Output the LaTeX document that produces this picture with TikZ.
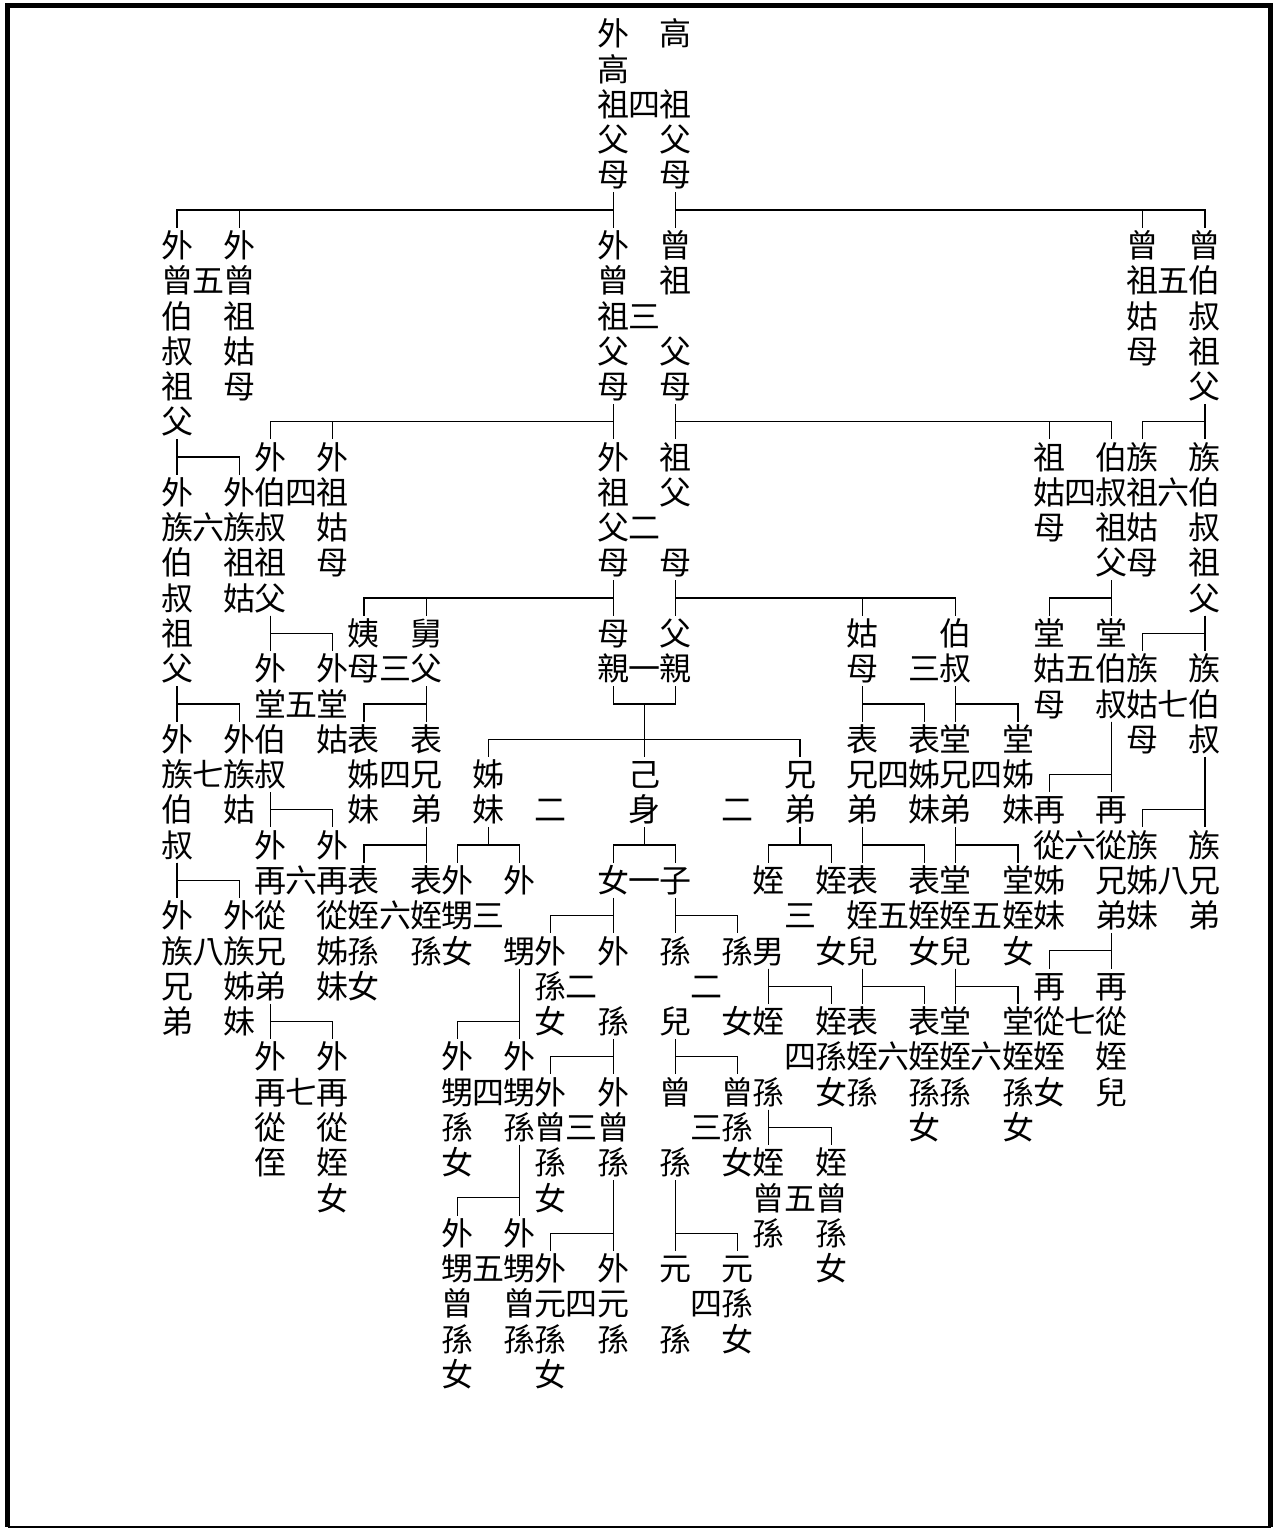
\documentclass[tikz,border=0pt]{standalone}
\usepackage{fontspec}
\newfontfamily\cjk{Noto Sans CJK TC}
\newlength\cellw \setlength\cellw{15.575pt}
\makeatletter
\def\vt@end{\vt@end}
\newcommand\vtext[1]{\vbox{\offinterlineskip\vt@loop#1\vt@end}}
\def\vt@loop#1{\ifx#1\vt@end\else\hbox to\cellw{\vrule height14.9pt depth2.74pt width0pt\hss#1\hss}\expandafter\vt@loop\fi}
\makeatother

\begin{document}
\begin{tikzpicture}[x=15.575pt,y=17.64pt]
\tikzstyle{term}=[anchor=north, yshift=8.82pt, inner sep=0pt, outer sep=0pt, font=\cjk\fontsize{16pt}{17.64pt}\selectfont]
\tikzstyle{link}=[line width=0.6pt]
\useasboundingbox (-5.6822,0.9524) rectangle (35.3451,-42.358);
% frame
\draw[line width=2.5pt] (-5.441,-42.324) -- (-5.441,0.797) -- (35.104,0.797) -- (35.104,-42.324);
\draw[line width=0.75pt] (-5.441,-42.324) -- (35.104,-42.324);
% generation -4 .. -3
\node[term] (wgz) at (14,0) {\vtext{外高祖父母}};
\node[term] (gz) at (16,0) {\vtext{高　祖父母}};
\node[term] (wzbs) at (0,-6) {\vtext{外曾伯叔祖父}};
\node[term] (wzgu) at (2,-6) {\vtext{外曾祖姑母}};
\node[term] (wz) at (14,-6) {\vtext{外曾祖父母}};
\node[term] (zz) at (16,-6) {\vtext{曾祖　父母}};
\node[term] (zzgu) at (31,-6) {\vtext{曾祖姑母}};
\node[term] (zbs) at (33,-6) {\vtext{曾伯叔祖父}};
% generation -2
\node[term] (wzbs2) at (0,-13) {\vtext{外族伯叔祖父}};
\node[term] (wzgu2) at (2,-13) {\vtext{外族祖姑}};
\node[term] (wbs) at (3,-12) {\vtext{外伯叔祖父}};
\node[term] (wgu) at (5,-12) {\vtext{外祖姑母}};
\node[term] (wzf) at (14,-12) {\vtext{外祖父母}};
\node[term] (zf) at (16,-12) {\vtext{祖父　母}};
\node[term] (zgm) at (28,-12) {\vtext{祖姑母}};
\node[term] (bszf) at (30,-12) {\vtext{伯叔祖父}};
\node[term] (zzgm) at (31,-12) {\vtext{族祖姑母}};
\node[term] (zbszf) at (33,-12) {\vtext{族伯叔祖父}};
% generation -1
\node[term] (wzbs3) at (0,-20) {\vtext{外族伯叔}};
\node[term] (wzgu3) at (2,-20) {\vtext{外族姑}};
\node[term] (wtbs) at (3,-18) {\vtext{外堂伯叔}};
\node[term] (wtg) at (5,-18) {\vtext{外堂姑}};
\node[term] (yi) at (6,-17) {\vtext{姨母}};
\node[term] (jiu) at (8,-17) {\vtext{舅父}};
\node[term] (mq) at (14,-17) {\vtext{母親}};
\node[term] (fq) at (16,-17) {\vtext{父親}};
\node[term] (gm) at (22,-17) {\vtext{姑母}};
\node[term] (bs) at (25,-17) {\vtext{伯叔}};
\node[term] (tgm) at (28,-17) {\vtext{堂姑母}};
\node[term] (tbs) at (30,-17) {\vtext{堂伯叔}};
\node[term] (zgm2) at (31,-18) {\vtext{族姑母}};
\node[term] (zbs2) at (33,-18) {\vtext{族伯叔}};
% generation 0
\node[term] (wzxd) at (0,-25) {\vtext{外族兄弟}};
\node[term] (wzzm) at (2,-25) {\vtext{外族姊妹}};
\node[term] (wzcx) at (3,-23) {\vtext{外再從兄弟}};
\node[term] (wzcz) at (5,-23) {\vtext{外再從姊妹}};
\node[term] (bzm) at (6,-20) {\vtext{表姊妹}};
\node[term] (bxd) at (8,-20) {\vtext{表兄弟}};
\node[term] (zm) at (10,-21) {\vtext{姊妹}};
\node[term] (js) at (15,-21) {\vtext{己身}};
\node[term] (xd) at (20,-21) {\vtext{兄弟}};
\node[term] (bxd2) at (22,-20) {\vtext{表兄弟}};
\node[term] (bzm2) at (24,-20) {\vtext{表姊妹}};
\node[term] (txd) at (25,-20) {\vtext{堂兄弟}};
\node[term] (tzm) at (27,-20) {\vtext{堂姊妹}};
\node[term] (zczm) at (28,-22) {\vtext{再從姊妹}};
\node[term] (zcxd) at (30,-22) {\vtext{再從兄弟}};
\node[term] (zzm) at (31,-23) {\vtext{族姊妹}};
\node[term] (zxd) at (33,-23) {\vtext{族兄弟}};
% generation +1
\node[term] (wzcz2) at (3,-29) {\vtext{外再從侄}};
\node[term] (wzcn) at (5,-29) {\vtext{外再從姪女}};
\node[term] (bzsn) at (6,-24) {\vtext{表姪孫女}};
\node[term] (bzs) at (8,-24) {\vtext{表姪孫}};
\node[term] (wsn) at (9,-24) {\vtext{外甥女}};
\node[term] (ws) at (11,-24) {\vtext{外　甥}};
\node[term] (nv) at (14,-24) {\vtext{女}};
\node[term] (zi) at (16,-24) {\vtext{子}};
\node[term] (zn) at (19,-24) {\vtext{姪　男}};
\node[term] (znv) at (21,-24) {\vtext{姪　女}};
\node[term] (bze) at (22,-24) {\vtext{表姪兒}};
\node[term] (bzn) at (24,-24) {\vtext{表姪女}};
\node[term] (tze) at (25,-24) {\vtext{堂姪兒}};
\node[term] (tzn) at (27,-24) {\vtext{堂姪女}};
\node[term] (zczn) at (28,-27) {\vtext{再從姪女}};
\node[term] (zcze) at (30,-27) {\vtext{再從姪兒}};
% generation +2
\node[term] (wssn) at (9,-29) {\vtext{外甥孫女}};
\node[term] (wss) at (11,-29) {\vtext{外甥孫}};
\node[term] (wsnv) at (12,-26) {\vtext{外孫女}};
\node[term] (ws2) at (14,-26) {\vtext{外　孫}};
\node[term] (se) at (16,-26) {\vtext{孫　兒}};
\node[term] (snv) at (18,-26) {\vtext{孫　女}};
\node[term] (zs) at (19,-28) {\vtext{姪　孫}};
\node[term] (zsn) at (21,-28) {\vtext{姪孫女}};
\node[term] (bzs2) at (22,-28) {\vtext{表姪孫}};
\node[term] (bzsn2) at (24,-28) {\vtext{表姪孫女}};
\node[term] (tzs) at (25,-28) {\vtext{堂姪孫}};
\node[term] (tzsn) at (27,-28) {\vtext{堂姪孫女}};
% generation +3 .. +4
\node[term] (wszn) at (9,-34) {\vtext{外甥曾孫女}};
\node[term] (wszs) at (11,-34) {\vtext{外甥曾孫}};
\node[term] (wzsn) at (12,-30) {\vtext{外曾孫女}};
\node[term] (wzs) at (14,-30) {\vtext{外曾孫}};
\node[term] (zs2) at (16,-30) {\vtext{曾　孫}};
\node[term] (zsn2) at (18,-30) {\vtext{曾孫女}};
\node[term] (zzs) at (19,-32) {\vtext{姪曾孫}};
\node[term] (zzsn) at (21,-32) {\vtext{姪曾孫女}};
\node[term] (wysn) at (12,-35) {\vtext{外元孫女}};
\node[term] (wys) at (14,-35) {\vtext{外元孫}};
\node[term] (ys) at (16,-35) {\vtext{元　孫}};
\node[term] (ysn) at (18,-35) {\vtext{元孫女}};
% mourning degrees
\foreach \dg/\cx/\ry [count=\i] in {四/15/2,五/1/7,三/15/8,五/32/7,四/4/13,四/29/13,六/32/13,六/1/14,二/15/14,三/7/18,一/15/18,三/24/18,五/29/18,五/4/19,七/32/19,七/1/21,四/7/21,四/23/21,四/26/21,二/12/22,二/18/22,六/29/23,六/4/24,一/15/24,八/32/24,六/7/25,三/10/25,三/20/25,五/23/25,五/26/25,八/1/26,二/13/27,二/17/27,七/29/28,四/20/29,六/23/29,六/26/29,七/4/30,四/10/30,三/13/31,三/17/31,五/20/33,五/10/35,四/13/36,四/17/36}
  {\node[term] (g\i) at (\cx,-\ry) {\vtext{\dg}};}
% connectors
\foreach \up/\dn/\rw in {wgz/wz/5,wgz/wzbs/5,wgz/wzgu/5,gz/zz/5,gz/zzgu/5,gz/zbs/5,
  wz/wzf/11,wz/wbs/11,wz/wgu/11,zz/zf/11,zz/zgm/11,zz/bszf/11,zbs/zbszf/11,zbs/zzgm/11,
  wzbs/wzbs2/12,wzbs/wzgu2/12,
  wzf/mq/16,wzf/yi/16,wzf/jiu/16,zf/fq/16,zf/gm/16,zf/bs/16,bszf/tbs/16,bszf/tgm/16,
  wbs/wtbs/17,wbs/wtg/17,zbszf/zbs2/17,zbszf/zgm2/17,
  wzbs2/wzbs3/19,wzbs2/wzgu3/19,jiu/bxd/19,jiu/bzm/19,mq/js/19,fq/js/19,gm/bxd2/19,gm/bzm2/19,bs/txd/19,bs/tzm/19,
  tbs/zcxd/21,tbs/zczm/21,
  wtbs/wzcx/22,wtbs/wzcz/22,zbs2/zxd/22,zbs2/zzm/22,
  bxd/bzs/23,bxd/bzsn/23,zm/wsn/23,zm/ws/23,js/nv/23,js/zi/23,xd/zn/23,xd/znv/23,bxd2/bze/23,bxd2/bzn/23,txd/tze/23,txd/tzn/23,
  wzbs3/wzxd/24,wzbs3/wzzm/24,
  nv/ws2/25,nv/wsnv/25,zi/se/25,zi/snv/25,
  zcxd/zcze/26,zcxd/zczn/26,
  zn/zs/27,zn/zsn/27,bze/bzs2/27,bze/bzsn2/27,tze/tzs/27,tze/tzsn/27,
  wzcx/wzcz2/28,wzcx/wzcn/28,ws/wss/28,ws/wssn/28,
  ws2/wzs/29,ws2/wzsn/29,se/zs2/29,se/zsn2/29,
  zs/zzs/31,zs/zzsn/31,
  wss/wszs/33,wss/wszn/33,
  wzs/wys/34,wzs/wysn/34,zs2/ys/34,zs2/ysn/34}
  {\draw[link] (\up.south) |- (\dn.north |- 0,-\rw) -- (\dn.north);}
\draw[link] (zm.north) |- (xd.north |- 0,-20) -- (xd.north);
\end{tikzpicture}
\end{document}
